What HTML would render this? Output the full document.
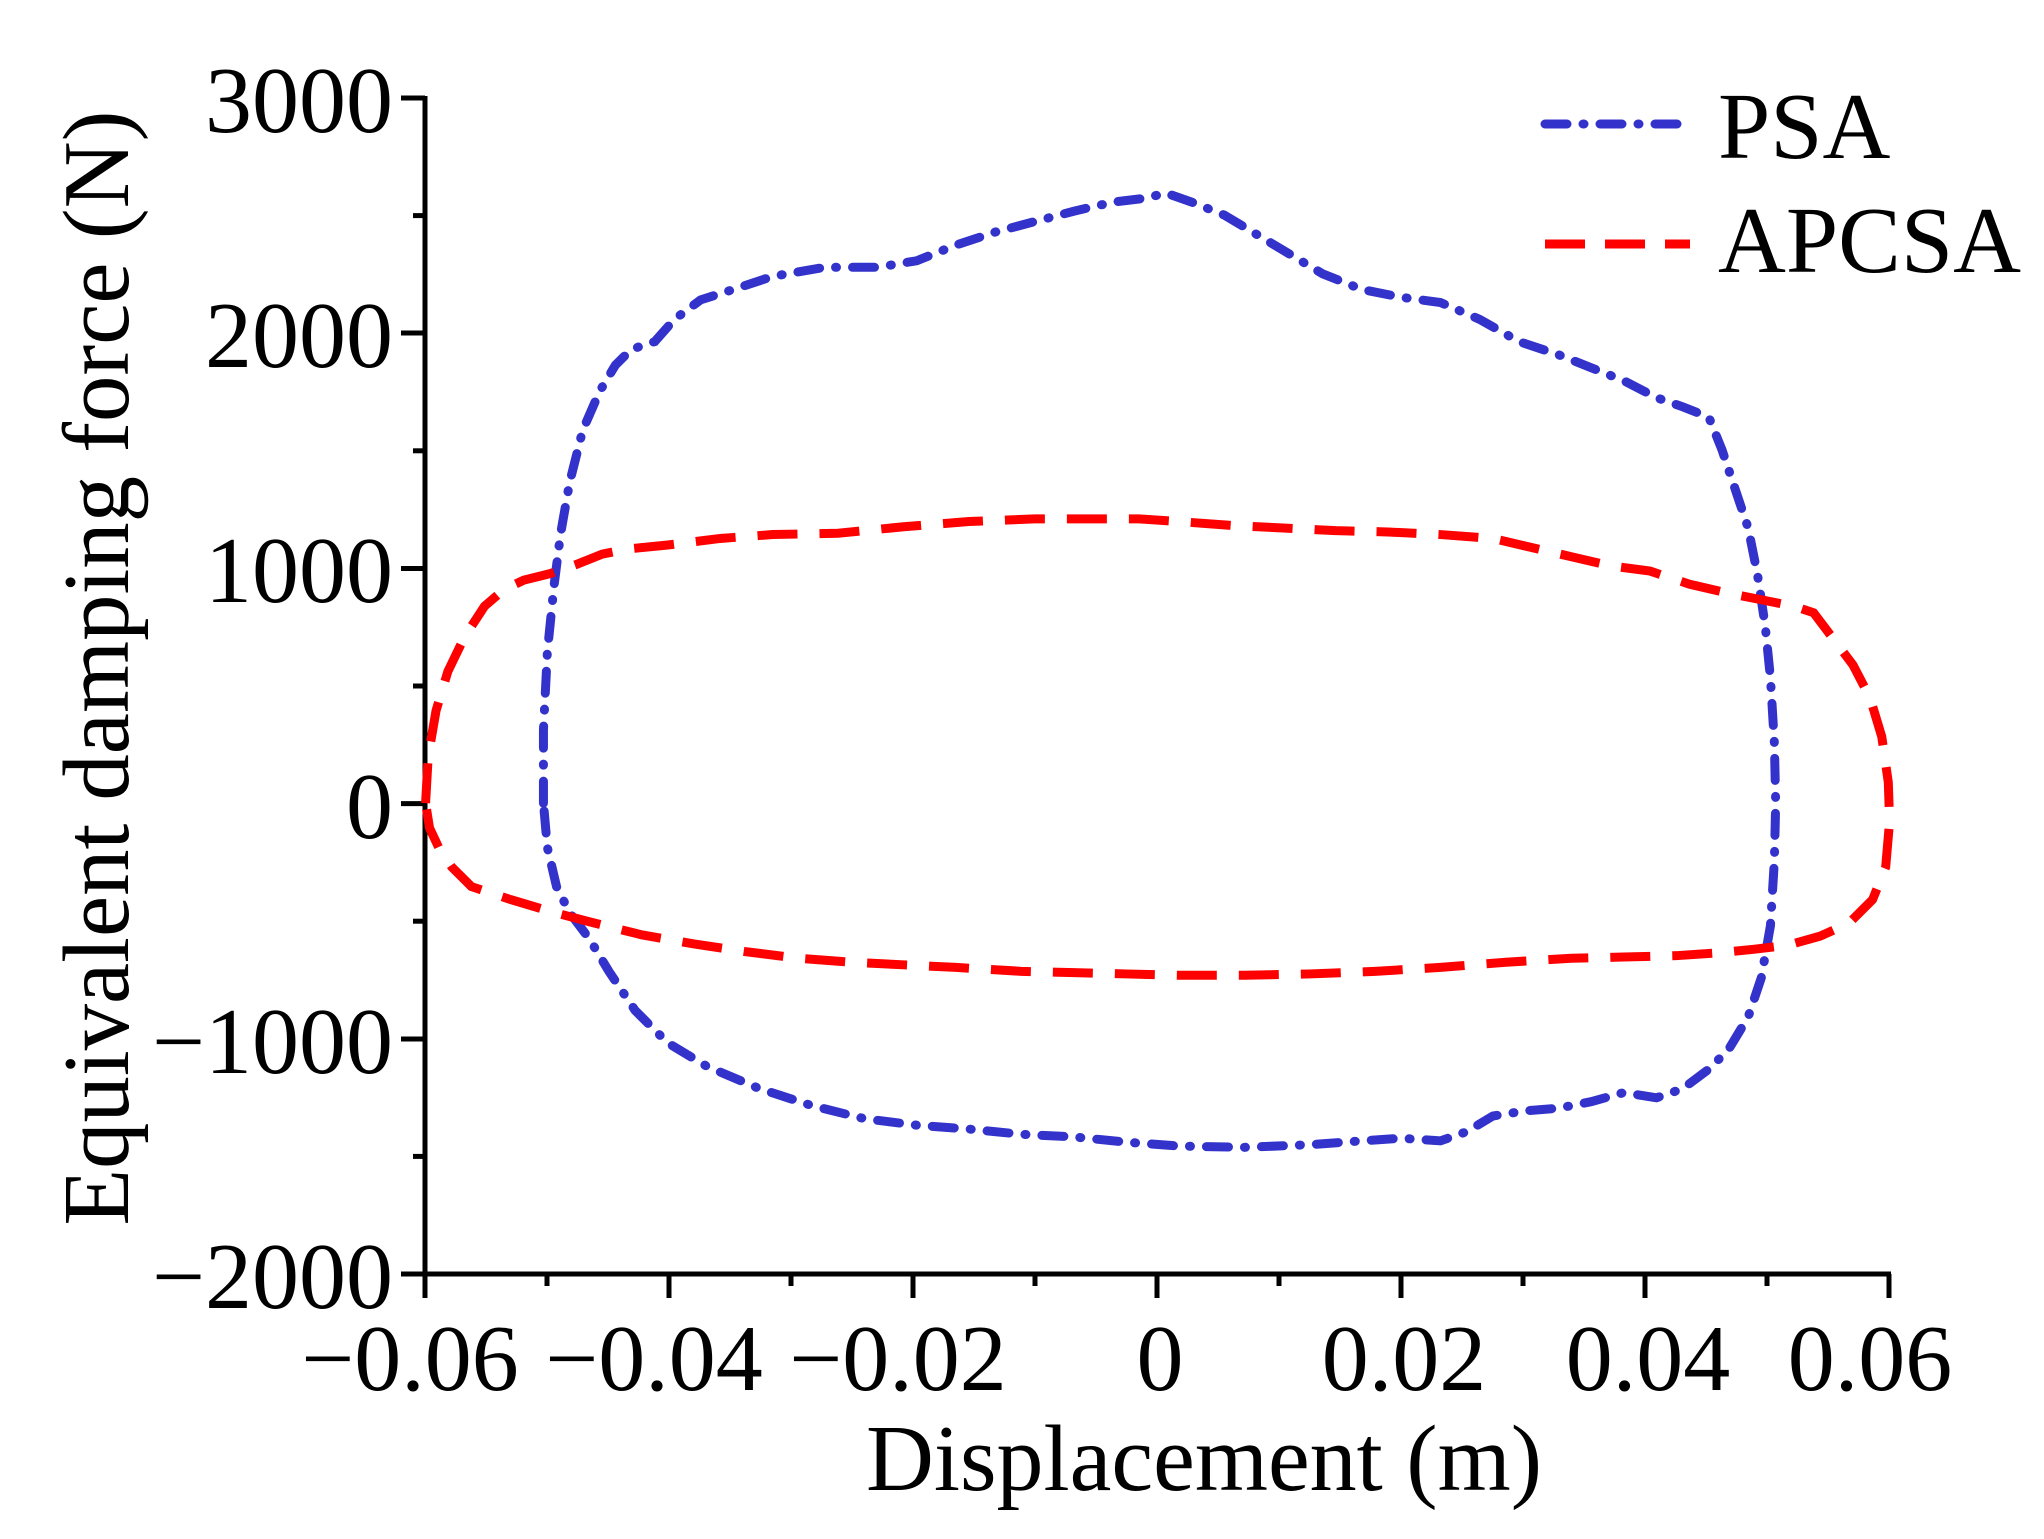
<!DOCTYPE html>
<html><head><meta charset="utf-8"><style>
html,body{margin:0;padding:0;background:#fff}
svg{display:block}
text{font-family:"Liberation Serif","Times New Roman",serif;fill:#000}
</style></head><body>
<svg width="2044" height="1539" viewBox="0 0 2044 1539" xmlns="http://www.w3.org/2000/svg">
<g stroke="#000" stroke-width="5" fill="none">
<line x1="425" y1="96" x2="425" y2="1276"/>
<line x1="423" y1="1274" x2="1891" y2="1274"/>
<!-- y major ticks -->
<line x1="401" y1="98" x2="425" y2="98"/>
<line x1="401" y1="333" x2="425" y2="333"/>
<line x1="401" y1="568.5" x2="425" y2="568.5"/>
<line x1="401" y1="803.6" x2="425" y2="803.6"/>
<line x1="401" y1="1039" x2="425" y2="1039"/>
<line x1="401" y1="1274" x2="425" y2="1274"/>
<!-- y minor -->
<line x1="413" y1="215.6" x2="425" y2="215.6"/>
<line x1="413" y1="450.8" x2="425" y2="450.8"/>
<line x1="413" y1="686" x2="425" y2="686"/>
<line x1="413" y1="921.2" x2="425" y2="921.2"/>
<line x1="413" y1="1156.4" x2="425" y2="1156.4"/>
<!-- x major -->
<line x1="425" y1="1274" x2="425" y2="1298"/>
<line x1="669" y1="1274" x2="669" y2="1298"/>
<line x1="913" y1="1274" x2="913" y2="1298"/>
<line x1="1157" y1="1274" x2="1157" y2="1298"/>
<line x1="1401" y1="1274" x2="1401" y2="1298"/>
<line x1="1645" y1="1274" x2="1645" y2="1298"/>
<line x1="1889" y1="1274" x2="1889" y2="1298"/>
<!-- x minor -->
<line x1="547" y1="1274" x2="547" y2="1286"/>
<line x1="791" y1="1274" x2="791" y2="1286"/>
<line x1="1035" y1="1274" x2="1035" y2="1286"/>
<line x1="1279" y1="1274" x2="1279" y2="1286"/>
<line x1="1523" y1="1274" x2="1523" y2="1286"/>
<line x1="1767" y1="1274" x2="1767" y2="1286"/>
</g>
<g font-size="94" text-anchor="end">
<text x="393" y="132">3000</text>
<text x="393" y="367">2000</text>
<text x="393" y="602">1000</text>
<text x="393" y="838">0</text>
<text x="393" y="1073">−1000</text>
<text x="393" y="1308">−2000</text>
</g>
<g font-size="94" text-anchor="middle">
<text x="410" y="1390">−0.06</text>
<text x="654" y="1390">−0.04</text>
<text x="898" y="1390">−0.02</text>
<text x="1160" y="1390">0</text>
<text x="1404" y="1390">0.02</text>
<text x="1648" y="1390">0.04</text>
<text x="1870" y="1390">0.06</text>
</g>
<text x="1204" y="1490" font-size="94" text-anchor="middle">Displacement (m)</text>
<text transform="translate(128,668) rotate(-90)" font-size="94" text-anchor="middle" textLength="1115" lengthAdjust="spacingAndGlyphs">Equivalent damping force (N)</text>
<!-- legend -->
<line x1="1545" y1="124" x2="1690" y2="124" stroke="#3333cc" stroke-width="9" stroke-linecap="round" stroke-dasharray="22 16 1 16"/>
<text x="1718" y="158" font-size="94">PSA</text>
<line x1="1545" y1="244" x2="1690" y2="244" stroke="#ff0000" stroke-width="9" stroke-dasharray="40 20"/>
<text x="1718" y="272" font-size="94">APCSA</text>
<g transform="scale(1.3095,1.3038)" fill="none">
<path vector-effect="non-scaling-stroke" stroke="#3333cc" stroke-width="9" stroke-linecap="round" stroke-dasharray="22 16 1 16" d="M415,616 L415,560 418,500 423,450 428,410 435,370 445,330 458,300 470,280 482,268 500,262 515,245 535,230 560,222 590,212 630,205 670,205 700,200 730,188 760,178 790,170 820,162 850,155 875,152 890,148 910,155 935,165 960,180 985,195 1010,210 1040,222 1070,228 1100,232 1130,245 1160,262 1190,272 1215,282 1240,292 1265,305 1285,312 1305,320 1315,345 1325,375 1335,405 1342,440 1348,480 1352,520 1355,570 1356,616 1355,660 1352,710 1345,750 1335,780 1320,805 1305,820 1285,835 1265,842 1240,838 1215,845 1190,850 1165,852 1140,856 1120,868 1100,875 1070,873 1040,875 1000,878 950,880 900,879 860,876 820,872 780,870 740,866 700,863 660,858 620,848 580,835 540,818 510,800 485,775 465,745 450,720 435,700 425,680 418,650 Z"/>
<path vector-effect="non-scaling-stroke" stroke="#ff0000" stroke-width="9" stroke-dasharray="40 22" d="M325,616 L327,580 333,545 342,515 355,488 370,465 385,452 400,445 420,440 440,433 460,425 480,421 510,418 550,413 590,410 640,409 690,404 740,400 790,398 830,398 870,398 900,400 940,403 980,405 1020,407 1060,408 1100,410 1140,413 1170,420 1200,427 1230,434 1260,438 1290,448 1320,455 1345,460 1370,465 1385,470 1400,490 1415,510 1428,535 1437,565 1442,600 1443,630 1440,665 1430,690 1412,708 1390,718 1365,725 1340,728 1310,731 1280,733 1240,734 1200,735 1150,738 1100,742 1050,745 1000,747 950,748 900,748 860,747 820,746 780,745 730,742 690,740 650,738 610,735 570,730 530,724 490,717 450,707 420,699 390,690 360,680 345,665 335,650 328,635 Z"/>
</g>
</svg>
</body></html>
